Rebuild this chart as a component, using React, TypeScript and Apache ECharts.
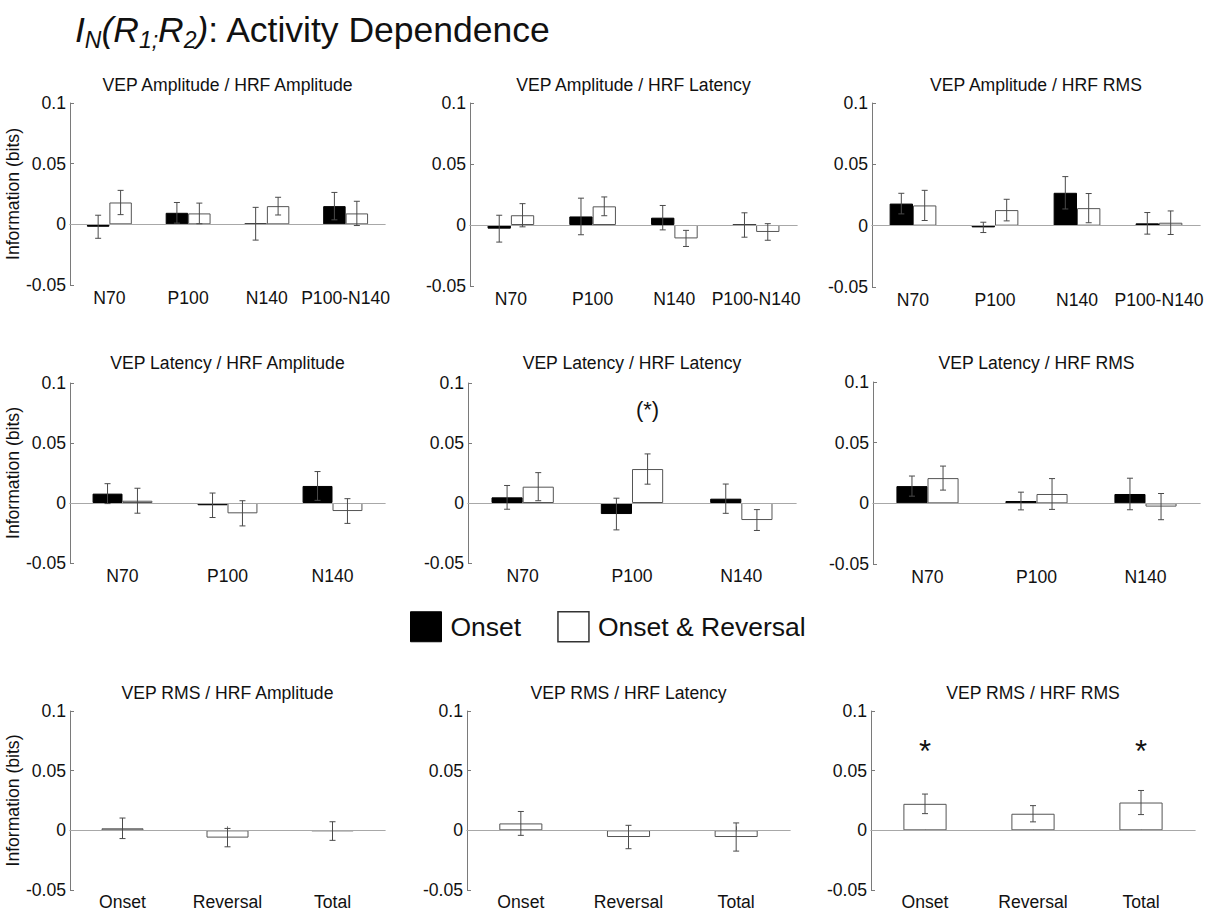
import React, { useEffect, useRef } from 'react';
import * as echarts from 'echarts';

const FONT = '"Liberation Sans", Arial, sans-serif';
const SMALL = 17.6;

// Category labels
const VEP_CATS = ['N70', 'P100', 'N140', 'P100-N140'];
const VEP_CATS_3 = ['N70', 'P100', 'N140'];
const RMS_CATS = ['Onset', 'Reversal', 'Total'];

// Y axis range (bits)
const Y_MIN = -0.05;
const Y_MAX = 0.1;
const Y_STEP = 0.05;

// VEP Amplitude / HRF Amplitude
const ampAmpOnset = [-0.002, 0.0095, 0.0005, 0.015];
const ampAmpOnsetErr = [0.0095, 0.0085, 0.0135, 0.0113];
const ampAmpBoth = [0.018, 0.009, 0.015, 0.009];
const ampAmpBothErr = [0.010, 0.0085, 0.0073, 0.010];

// VEP Amplitude / HRF Latency
const ampLatOnset = [-0.003, 0.007, 0.006, 0];
const ampLatOnsetErr = [0.011, 0.015, 0.010, 0.010];
const ampLatBoth = [0.008, 0.0153, -0.011, -0.0057];
const ampLatBothErr = [0.0095, 0.0077, 0.0066, 0.0068];

// VEP Amplitude / HRF RMS
const ampRmsOnset = [0.018, -0.0014, 0.0268, 0.0019];
const ampRmsOnsetErr = [0.0084, 0.0042, 0.0132, 0.0088];
const ampRmsBoth = [0.0165, 0.0127, 0.0143, 0.0024];
const ampRmsBothErr = [0.0123, 0.0088, 0.0119, 0.0096];

// VEP Latency / HRF Amplitude
const latAmpOnset = [0.0078, -0.0019, 0.0142];
const latAmpOnsetErr = [0.0083, 0.0102, 0.012];
const latAmpBoth = [0.0019, -0.0086, -0.0067];
const latAmpBothErr = [0.0104, 0.0105, 0.0103];

// VEP Latency / HRF Latency
const latLatOnset = [0.0047, -0.0092, 0.0036];
const latLatOnsetErr = [0.0099, 0.0132, 0.0122];
const latLatBoth = [0.0136, 0.0283, -0.0142];
const latLatBothErr = [0.0117, 0.0126, 0.0087];

// VEP Latency / HRF RMS
const latRmsOnset = [0.0142, 0.0019, 0.0077];
const latRmsOnsetErr = [0.0083, 0.0073, 0.013];
const latRmsBoth = [0.0208, 0.0077, -0.0027];
const latRmsBothErr = [0.0099, 0.0127, 0.0108];

// VEP RMS rows (single series)
const rmsAmp = [0.0017, -0.0061, -0.0006];
const rmsAmpErr = [0.0086, 0.0077, 0.0078];
const rmsLat = [0.0058, -0.0056, -0.0056];
const rmsLatErr = [0.010, 0.0098, 0.0118];
const rmsRms = [0.0222, 0.0139, 0.0233];
const rmsRmsErr = [0.0082, 0.0068, 0.0101];

// Significance markers: category index, height (bits), bar side, text
const latLatSig = [{ cat: 1, level: 0.078, side: 1, text: '(*)' }];
const rmsRmsSig = [
  { cat: 0, level: 0.07, side: 0, text: '*' },
  { cat: 2, level: 0.07, side: 0, text: '*' },
];

type Panel = {
  title: string;
  cats: string[];
  onset?: number[];
  onsetErr?: number[];
  both?: number[];
  bothErr?: number[];
  single?: number[];
  singleErr?: number[];
  sig?: { cat: number; level: number; side: number; text: string }[];
};

const PANELS: Panel[] = [
  { title: 'VEP Amplitude / HRF Amplitude', cats: VEP_CATS, onset: ampAmpOnset, onsetErr: ampAmpOnsetErr, both: ampAmpBoth, bothErr: ampAmpBothErr },
  { title: 'VEP Amplitude / HRF Latency', cats: VEP_CATS, onset: ampLatOnset, onsetErr: ampLatOnsetErr, both: ampLatBoth, bothErr: ampLatBothErr },
  { title: 'VEP Amplitude / HRF RMS', cats: VEP_CATS, onset: ampRmsOnset, onsetErr: ampRmsOnsetErr, both: ampRmsBoth, bothErr: ampRmsBothErr },
  { title: 'VEP Latency / HRF Amplitude', cats: VEP_CATS_3, onset: latAmpOnset, onsetErr: latAmpOnsetErr, both: latAmpBoth, bothErr: latAmpBothErr },
  { title: 'VEP Latency / HRF Latency', cats: VEP_CATS_3, onset: latLatOnset, onsetErr: latLatOnsetErr, both: latLatBoth, bothErr: latLatBothErr, sig: latLatSig },
  { title: 'VEP Latency / HRF RMS', cats: VEP_CATS_3, onset: latRmsOnset, onsetErr: latRmsOnsetErr, both: latRmsBoth, bothErr: latRmsBothErr },
  { title: 'VEP RMS / HRF Amplitude', cats: RMS_CATS, single: rmsAmp, singleErr: rmsAmpErr },
  { title: 'VEP RMS / HRF Latency', cats: RMS_CATS, single: rmsLat, singleErr: rmsLatErr },
  { title: 'VEP RMS / HRF RMS', cats: RMS_CATS, single: rmsRms, singleErr: rmsRmsErr, sig: rmsRmsSig },
];

// Plot rectangles (px) and title centres for the 3x3 layout
const GRID_RECTS = [
  { left: 70, top: 103, width: 315, height: 182 },
  { left: 470, top: 103, width: 327, height: 183 },
  { left: 872, top: 103, width: 328, height: 184 },
  { left: 70, top: 383, width: 315, height: 180 },
  { left: 468, top: 383, width: 328, height: 180 },
  { left: 873, top: 382, width: 327, height: 182 },
  { left: 70, top: 711, width: 315, height: 179 },
  { left: 467, top: 711, width: 323, height: 179 },
  { left: 871, top: 711, width: 324, height: 179 },
];
const TITLE_Y = [85, 85, 85, 363, 363, 363, 693, 693, 693];

// Paired bars fill 57% of a band, each bar 28.5%
const PAIR_GAP = '43%';
const PAIR_OFFSET = 0.1425;
const SINGLE_GAP = '60%';

const errorRenderer = (params: any, api: any) => {
  const ci = api.value(0);
  const lo = api.value(1);
  const hi = api.value(2);
  const off = api.value(3);
  const band = api.size([1, 0])[0];
  const top = api.coord([ci, hi]);
  const bot = api.coord([ci, lo]);
  const x = top[0] + off * band;
  const cap = 3;
  const style = { stroke: '#4a4a4a', lineWidth: 1 };
  return {
    type: 'group',
    children: [
      { type: 'line', shape: { x1: x, y1: top[1], x2: x, y2: bot[1] }, style },
      { type: 'line', shape: { x1: x - cap, y1: top[1], x2: x + cap, y2: top[1] }, style },
      { type: 'line', shape: { x1: x - cap, y1: bot[1], x2: x + cap, y2: bot[1] }, style },
    ],
  };
};

const makeSigRenderer = (items: { text: string }[]) => (params: any, api: any) => {
  const ci = api.value(0);
  const lvl = api.value(1);
  const off = api.value(2);
  const band = api.size([1, 0])[0];
  const p = api.coord([ci, lvl]);
  const txt = items[params.dataIndex].text;
  const isStar = txt === '*';
  return {
    type: 'text',
    x: p[0] + off * band,
    y: p[1] + (isStar ? 5 : 0),
    style: {
      text: txt,
      fontSize: isStar ? 31 : 22,
      fontFamily: FONT,
      fill: '#111',
      align: 'center',
      verticalAlign: 'middle',
    },
  };
};

function buildOption() {
  const grid: any[] = [];
  const xAxis: any[] = [];
  const yAxis: any[] = [];
  const series: any[] = [];
  const graphic: any[] = [];

  PANELS.forEach((p, i) => {
    const r = GRID_RECTS[i];
    const isBottom = i >= 6;
    const isLeft = i % 3 === 0;
    grid.push({ ...r, containLabel: false, outerBoundsMode: 'none' });

    xAxis.push({
      type: 'category',
      gridIndex: i,
      data: p.cats,
      axisLine: { show: true, lineStyle: { color: '#7a7a7a', width: 1 } },
      axisTick: { show: isBottom, inside: true, alignWithLabel: true, length: 4, lineStyle: { color: '#7a7a7a' } },
      axisLabel: {
        interval: 0,
        fontSize: SMALL,
        lineHeight: 19,
        color: '#111',
        fontFamily: FONT,
        margin: isBottom ? 2 : 3,
      },
      splitLine: { show: false },
    });

    yAxis.push({
      type: 'value',
      gridIndex: i,
      min: Y_MIN,
      max: Y_MAX,
      interval: Y_STEP,
      axisLine: { show: true, lineStyle: { color: '#7a7a7a', width: 1 } },
      axisTick: { show: true, inside: true, length: 4, lineStyle: { color: '#7a7a7a' } },
      axisLabel: { fontSize: SMALL, color: '#111', fontFamily: FONT, margin: 4 },
      splitLine: { show: false },
      name: isLeft ? 'Information (bits)' : '',
      nameLocation: 'middle',
      nameGap: 36,
      nameTextStyle: { fontSize: SMALL, color: '#111', fontFamily: FONT },
    });

    const zeroLine = {
      silent: true,
      symbol: 'none',
      label: { show: false },
      lineStyle: { color: '#a8a8a8', width: 1, type: 'solid' },
      data: [{ yAxis: 0 }],
    };

    const errData: number[][] = [];
    if (p.single) {
      series.push({
        type: 'bar',
        name: 'Information',
        xAxisIndex: i,
        yAxisIndex: i,
        data: p.single,
        barCategoryGap: SINGLE_GAP,
        itemStyle: { color: '#ffffff', borderColor: '#555', borderWidth: 1 },
        markLine: zeroLine,
        z: 2,
      });
      p.single.forEach((v, k) => errData.push([k, v - p.singleErr![k], v + p.singleErr![k], 0]));
    } else {
      series.push({
        type: 'bar',
        name: 'Onset',
        xAxisIndex: i,
        yAxisIndex: i,
        data: p.onset,
        barGap: '0%',
        barCategoryGap: PAIR_GAP,
        itemStyle: { color: '#000000', borderColor: '#000', borderWidth: 1 },
        markLine: zeroLine,
        z: 2,
      });
      series.push({
        type: 'bar',
        name: 'Onset & Reversal',
        xAxisIndex: i,
        yAxisIndex: i,
        data: p.both,
        barGap: '0%',
        barCategoryGap: PAIR_GAP,
        itemStyle: { color: '#ffffff', borderColor: '#555', borderWidth: 1 },
        z: 2,
      });
      p.onset!.forEach((v, k) => errData.push([k, v - p.onsetErr![k], v + p.onsetErr![k], -PAIR_OFFSET]));
      p.both!.forEach((v, k) => errData.push([k, v - p.bothErr![k], v + p.bothErr![k], PAIR_OFFSET]));
    }

    series.push({
      type: 'custom',
      name: 'error',
      xAxisIndex: i,
      yAxisIndex: i,
      data: errData,
      encode: { x: 0, y: [1, 2] },
      renderItem: errorRenderer,
      silent: true,
      z: 5,
    });

    if (p.sig) {
      const sig = p.sig;
      series.push({
        type: 'custom',
        name: 'significance',
        xAxisIndex: i,
        yAxisIndex: i,
        data: sig.map((s) => [s.cat, s.level, p.single ? 0 : s.side ? PAIR_OFFSET : -PAIR_OFFSET]),
        encode: { x: 0, y: 1 },
        renderItem: makeSigRenderer(sig),
        silent: true,
        z: 6,
      });
    }

    graphic.push({
      type: 'text',
      x: r.left + r.width / 2,
      y: TITLE_Y[i],
      style: {
        text: p.title,
        fontSize: SMALL,
        fontFamily: FONT,
        fill: '#111',
        align: 'center',
        verticalAlign: 'middle',
      },
    });
  });

  // Figure heading with italic information-measure notation
  graphic.push({
    type: 'text',
    x: 75,
    y: 8,
    style: {
      text: '{i|I}{s|N}{i|(R}{s|1;}{i|R}{s|2}{i|)}{n|: Activity Dependence}',
      fill: '#111',
      rich: {
        i: { fontSize: 35.5, fontStyle: 'italic', fontFamily: FONT, lineHeight: 43, fill: '#111' },
        n: { fontSize: 35.5, fontFamily: FONT, lineHeight: 43, fill: '#111' },
        s: { fontSize: 23, fontStyle: 'italic', fontFamily: FONT, lineHeight: 23, verticalAlign: 'bottom', fill: '#111' },
      },
    },
  });

  return {
    animation: false,
    backgroundColor: '#ffffff',
    textStyle: { fontFamily: FONT },
    legend: {
      left: 410,
      top: 611,
      padding: 0,
      itemWidth: 31,
      itemHeight: 30,
      itemGap: 36,
      icon: 'rect',
      selectedMode: false,
      textStyle: { fontSize: 26.5, color: '#111', fontFamily: FONT, padding: [0, 0, 0, 4] },
      data: [
        { name: 'Onset', itemStyle: { color: '#000', borderColor: '#000', borderWidth: 1 } },
        { name: 'Onset & Reversal', itemStyle: { color: '#fff', borderColor: '#333', borderWidth: 1.5 } },
      ],
    },
    grid,
    xAxis,
    yAxis,
    series,
    graphic,
  };
}

export default function App() {
  const ref = useRef<HTMLDivElement>(null);
  useEffect(() => {
    if (!ref.current) return;
    const chart = echarts.init(ref.current, undefined, { renderer: 'svg' });
    chart.setOption(buildOption() as any);
    return () => chart.dispose();
  }, []);
  return (
    <div
      ref={ref}
      style={{ position: 'fixed', left: 0, top: 0, width: 1214, height: 913, background: '#fff' }}
    />
  );
}
